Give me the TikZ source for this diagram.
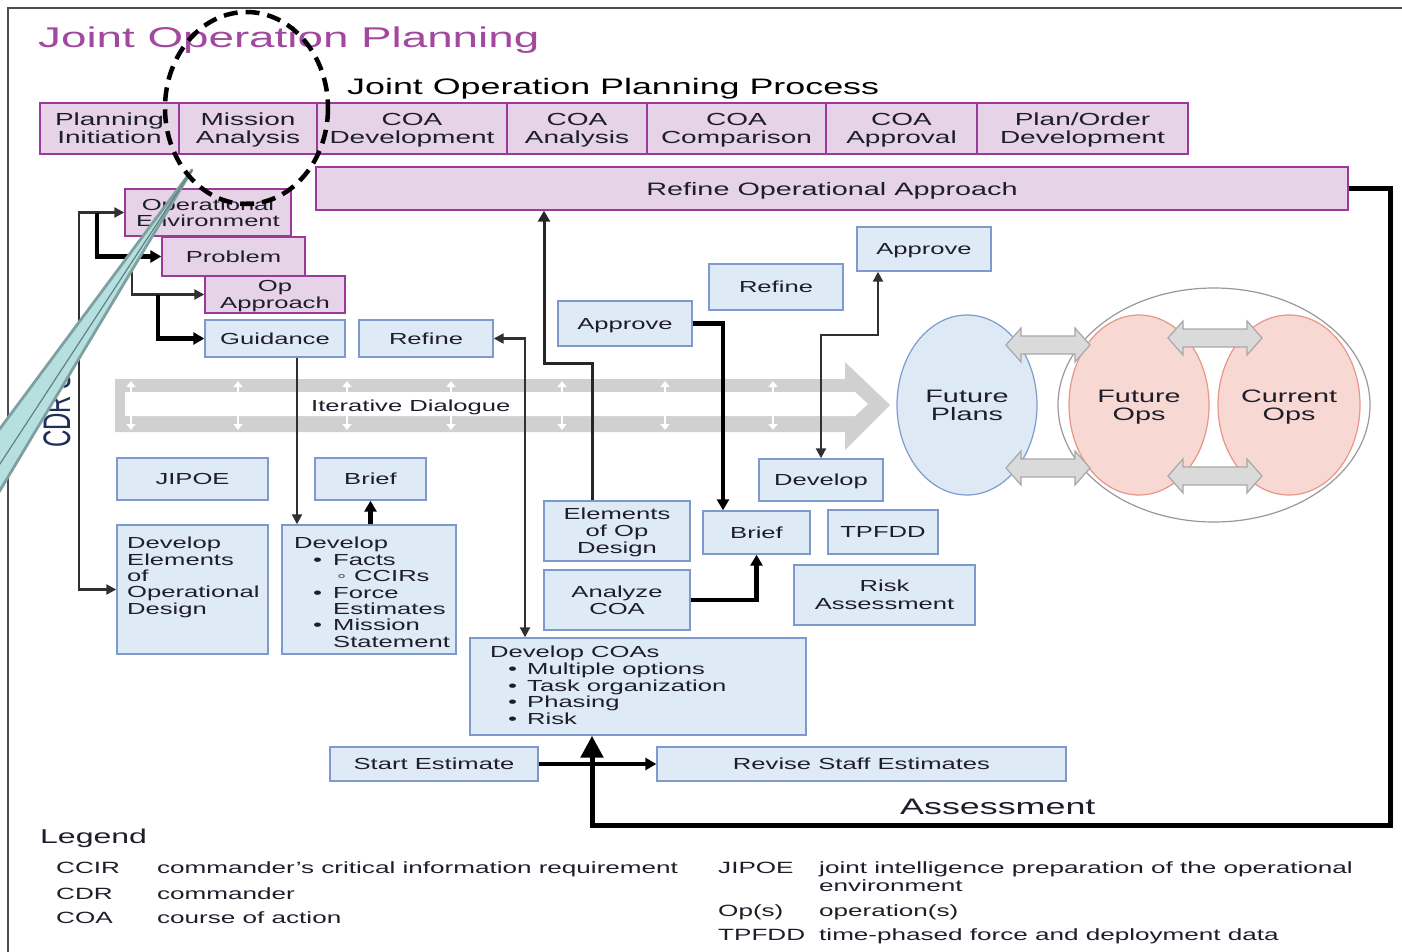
\documentclass[tikz,border=0pt]{standalone}
\usepackage{fontspec}
\setmainfont{Liberation Sans}[FakeStretch=1.6]
\newfontfamily\plainsans{Liberation Sans}
\usetikzlibrary{arrows.meta,calc,shapes.geometric}
\definecolor{pfill}{HTML}{E6D3E7}
\definecolor{pdraw}{HTML}{9B3A9B}
\definecolor{bfill}{HTML}{DFEAF7}
\definecolor{bdraw}{HTML}{7E9ACC}
\definecolor{txt}{HTML}{1E1E2A}
\definecolor{ttl}{HTML}{A2489F}
\definecolor{bandgray}{HTML}{D0D0D0}
\definecolor{wfill}{HTML}{B6E0E0}
\definecolor{wdraw}{HTML}{7FA0A0}
\definecolor{dgfill}{HTML}{DADADA}
\definecolor{dgdraw}{HTML}{A8A8A8}
\definecolor{lgray}{HTML}{303030}
\definecolor{fpfill}{HTML}{DEE9F6}
\definecolor{fpdraw}{HTML}{7D9BD0}
\definecolor{fofill}{HTML}{F8D8D3}
\definecolor{fodraw}{HTML}{E8958A}
\definecolor{cdrcol}{HTML}{1F2F5A}
\newcommand\ftop{\fontsize{17.5}{18}\selectfont}
\newcommand\fmid{\fontsize{16}{16.4}\selectfont}
\newcommand\fleg{\fontsize{16.3}{18}\selectfont}
\newcommand\dblarr[3]{\filldraw[fill=dgfill, draw=dgdraw, line width=1.2pt]
 (#1,#3) -- ++(15,-17) -- ++(0,8) -- ({#2-15},{#3-9}) -- ++(0,-8) -- (#2,#3)
 -- ++(-15,17) -- ++(0,-8) -- ({#1+15},{#3+9}) -- ++(0,8) -- cycle;}
\begin{document}
\begin{tikzpicture}[x=1pt,y=-1pt,
 pbox/.style={draw=pdraw, fill=pfill, line width=1.4pt, inner sep=1pt, align=center, text=txt, font=\ftop, text depth=0pt},
 bbox/.style={draw=bdraw, fill=bfill, line width=1.4pt, inner sep=1pt, align=center, text=txt, font=\fmid, text depth=0pt},
 sz/.style 2 args={minimum width=#1, minimum height=#2},
 oval/.style={ellipse, line width=1.2pt, inner sep=0pt, align=center, text=txt, font=\fontsize{18}{18}\selectfont, text depth=0pt},
 lefttext/.style={anchor=north west, inner sep=0pt, align=left, text=txt, font=\fmid},
 leg/.style={anchor=base west, inner sep=0pt, text=txt, font=\fleg},
 thinarr/.style={draw=lgray, line width=2.2pt, -{Triangle[length=10pt,width=10pt]}},
 thickarr/.style={draw=black, line width=4.5pt, -{Triangle[length=11pt,width=12pt]}},
 medarr/.style={draw=black!85, line width=3pt, -{Triangle[length=11pt,width=12pt]}},
 whitearr/.style={draw=white, line width=2.5pt, {Triangle[length=6pt,width=9pt]}-{Triangle[length=6pt,width=9pt]}}
]
\useasboundingbox (0,0) rectangle (1402,952);
\fill[white] (0,0) rectangle (1402,952);
% frame
\draw[draw=black!70, line width=1.5pt] (8,952) -- (8,8) -- (1402,8);

% titles
\node[anchor=base west, inner sep=0pt, text=ttl, font=\fontsize{28.6}{30}\selectfont] (title) at (38,48) {Joint Operation Planning};
\node[anchor=base west, inner sep=0pt, text=black, font=\fontsize{22.4}{24}\selectfont] (subtitle) at (347,95) {Joint Operation Planning Process};

% iterative dialogue band
\fill[bandgray] (115,379) -- (845,379) -- (845,362) -- (890,405) -- (845,450) -- (845,432) -- (115,432) -- cycle;
\fill[white] (125,392) -- (855,392) -- (868,404) -- (855,416) -- (125,416) -- cycle;
\foreach \xx in {131,238,347,451,562,665,773} {\draw[whitearr] (\xx,381) -- (\xx,430);}
\node[anchor=base west, inner sep=0pt, text=txt, font=\fmid] (iter) at (311,411) {Iterative Dialogue};

% ellipses on the right
\node[ellipse, draw=black!40, fill=white, line width=1.2pt, minimum width=312, minimum height=234, inner sep=0pt] (ring) at (1214,405) {};
\node[oval, draw=fpdraw, fill=fpfill, minimum width=140, minimum height=180] (fplans) at (967,405) {Future\\Plans};
\node[oval, draw=fodraw, fill=fofill, minimum width=140, minimum height=180] (fops) at (1139,405) {Future\\Ops};
\node[oval, draw=fodraw, fill=fofill, minimum width=142, minimum height=180] (cops) at (1289,405) {Current\\Ops};
\dblarr{1006}{1090}{345}
\dblarr{1006}{1090}{468}
\dblarr{1168}{1262}{338}
\dblarr{1168}{1262}{476}

% top row
\node[pbox, sz={139}{51}] (pi) at (109.5,128.5) {Planning\\Initiation};
\node[pbox, sz={138}{51}] (ma) at (248,128.5) {Mission\\Analysis};
\node[pbox, sz={190}{51}] (cd) at (412,128.5) {COA\\Development};
\node[pbox, sz={140}{51}] (ca) at (577,128.5) {COA\\Analysis};
\node[pbox, sz={179}{51}] (cc) at (736.5,128.5) {COA\\Comparison};
\node[pbox, sz={151}{51}] (cap) at (901.5,128.5) {COA\\Approval};
\node[pbox, sz={211}{51}] (pod) at (1082.5,128.5) {Plan/Order\\Development};
\node[pbox, sz={1032}{43}, font=\fontsize{18}{18}\selectfont] (roa) at (832,188.5) {Refine Operational Approach};

% mission analysis steps
\node[pbox, sz={166}{47}, font=\fmid] (oe) at (208,212.5) {Operational\\Environment};
\node[pbox, sz={143}{39}, font=\fmid] (prob) at (233.5,256.5) {Problem};
\node[pbox, sz={140}{37}, font=\fmid] (opa) at (275,294.5) {Op\\Approach};
\node[bbox, sz={140}{37}] (guid) at (275,338.5) {Guidance};
\node[bbox, sz={134}{37}] (ref1) at (426,338.5) {Refine};
\node[bbox, sz={134}{45}] (app1) at (625,323.5) {Approve};
\node[bbox, sz={134}{46}] (ref2) at (776,287) {Refine};
\node[bbox, sz={134}{44}] (app2) at (924,249) {Approve};
\node[bbox, sz={151}{42}] (jipoe) at (192.5,479) {JIPOE};
\node[bbox, sz={111}{42}] (brief1) at (370.5,479) {Brief};
\node[bbox, sz={151}{129}] (dev1) at (192.5,589.5) {};
\node[lefttext] (dev1t) at (127,537) {Develop\\Elements\\of\\Operational\\Design};
\node[bbox, sz={174}{129}] (dev2) at (369,589.5) {};
\node[lefttext] (dev2t) at (294,537) {Develop\\
\hspace*{19pt}\makebox[20pt][l]{\textbullet}Facts\\
\hspace*{43pt}\makebox[17pt][l]{◦}CCIRs\\
\hspace*{19pt}\makebox[20pt][l]{\textbullet}Force\\
\hspace*{39pt}Estimates\\
\hspace*{19pt}\makebox[20pt][l]{\textbullet}Mission\\
\hspace*{39pt}Statement};
\node[bbox, sz={146}{60}, font=\fontsize{16}{17}\selectfont] (elem) at (617,531) {Elements\\of Op\\Design};
\node[bbox, sz={146}{60}] (anl) at (617,600) {Analyze\\COA};
\node[bbox, sz={107}{43}] (brief2) at (756.5,532.5) {Brief};
\node[bbox, sz={110}{44}] (tpfdd) at (883,532) {TPFDD};
\node[bbox, sz={124}{42}] (dev3) at (821,480) {Develop};
\node[bbox, sz={181}{60}, font=\fontsize{16}{18}\selectfont] (risk) at (884.5,595) {Risk\\Assessment};
\node[bbox, sz={336}{97}] (devcoa) at (638,686.5) {};
\node[lefttext, font=\fontsize{16}{16.7}\selectfont] (devcoat) at (490,646) {Develop COAs\\
\hspace*{18pt}\makebox[19pt][l]{\textbullet}Multiple options\\
\hspace*{18pt}\makebox[19pt][l]{\textbullet}Task organization\\
\hspace*{18pt}\makebox[19pt][l]{\textbullet}Phasing\\
\hspace*{18pt}\makebox[19pt][l]{\textbullet}Risk};
\node[bbox, sz={208}{34}] (start) at (434,764) {Start Estimate};
\node[bbox, sz={409}{34}] (rev) at (861.5,764) {Revise Staff Estimates};

% helper coordinates
\coordinate (k1) at (525,0);
\coordinate (k2) at (544,0);
\coordinate (k3) at (723,0);
\coordinate (k4) at (878,0);
\coordinate (k5) at (592,0);
\coordinate (j1) at (97,0);
\coordinate (j2) at (132,0);
\coordinate (j3) at (158,0);
\coordinate (lx) at (79,400);

% left connectors
\draw[thinarr, {Triangle[length=10pt,width=10pt]}-{Triangle[length=10pt,width=10pt]}] (oe.west) -| (lx) |- (dev1.west);
\draw[thickarr] (j1 |- oe.west) |- (prob.west);
\draw[thinarr] (j2 |- prob.west) |- (opa.west);
\draw[thickarr] (j3 |- opa.west) |- (guid.west);

% middle connectors
\draw[thinarr] ([xshift=22pt]guid.south) -- ([xshift=22pt]guid.south |- dev2.north);
\draw[thickarr] (dev2.north -| brief1.south) -- (brief1.south);
\draw[thinarr, {Triangle[length=10pt,width=10pt]}-{Triangle[length=10pt,width=10pt]}] (ref1.east) -| (k1 |- devcoa.north);
\draw[medarr] ([xshift=-25pt]elem.north) -- ++(0,-137) -| (k2 |- roa.south);
\draw[thickarr] (app1.east) -| (k3 |- brief2.north);
\draw[thinarr, {Triangle[length=10pt,width=10pt]}-{Triangle[length=10pt,width=10pt]}] (dev3.north) -- ++(0,-123) -| (k4 |- app2.south);
\draw[thickarr] (anl.east) -| (brief2.south);
\draw[thickarr] (start.east) -- (rev.west);
\draw[draw=black, line width=5pt, -{Triangle[length=22pt,width=22pt]}] (roa.east) -| (1390,825) -| (k5 |- devcoa.south);
\node[anchor=base west, inner sep=0pt, text=txt, font=\fontsize{22.4}{24}\selectfont] (assess) at (900,814) {Assessment};

% legend
\node[anchor=base west, inner sep=0pt, text=txt, font=\fontsize{20}{22}\selectfont] (legend) at (40,843) {Legend};
\node[leg] (l1a) at (56,873) {CCIR};
\node[leg] (l1b) at (157,873) {commander's critical information requirement};
\node[leg] (l2a) at (56,899) {CDR};
\node[leg] (l2b) at (157,899) {commander};
\node[leg] (l3a) at (56,923) {COA};
\node[leg] (l3b) at (157,923) {course of action};
\node[leg] (l4a) at (718,873) {JIPOE};
\node[leg] (l4b) at (819,873) {joint intelligence preparation of the operational};
\node[leg] (l4c) at (819,891) {environment};
\node[leg] (l5a) at (718,916) {Op(s)};
\node[leg] (l5b) at (819,916) {operation(s)};
\node[leg] (l6a) at (718,940) {TPFDD};
\node[leg] (l6b) at (819,940) {time-phased force and deployment data};

% CDR label, callout wedge and dashed highlight
\node[rotate=90, anchor=base west, inner sep=0pt, text=cdrcol] (cdr) at (70,448) {\scalebox{1}[1.6]{\plainsans\fontsize{24}{24}\selectfont CDR S}};
\filldraw[fill=wfill, draw=wdraw, line width=2.8pt, line join=round] (192,170) -- (-4,434) -- (-4,497) -- cycle;
\draw[wdraw!80!black, line width=1.2pt] (192,170) -- (-4,470);
\draw[black, line width=4.5pt, dash pattern=on 14pt off 8pt] (246.5,108) ellipse [x radius=81.5, y radius=96];
\end{tikzpicture}
\end{document}
